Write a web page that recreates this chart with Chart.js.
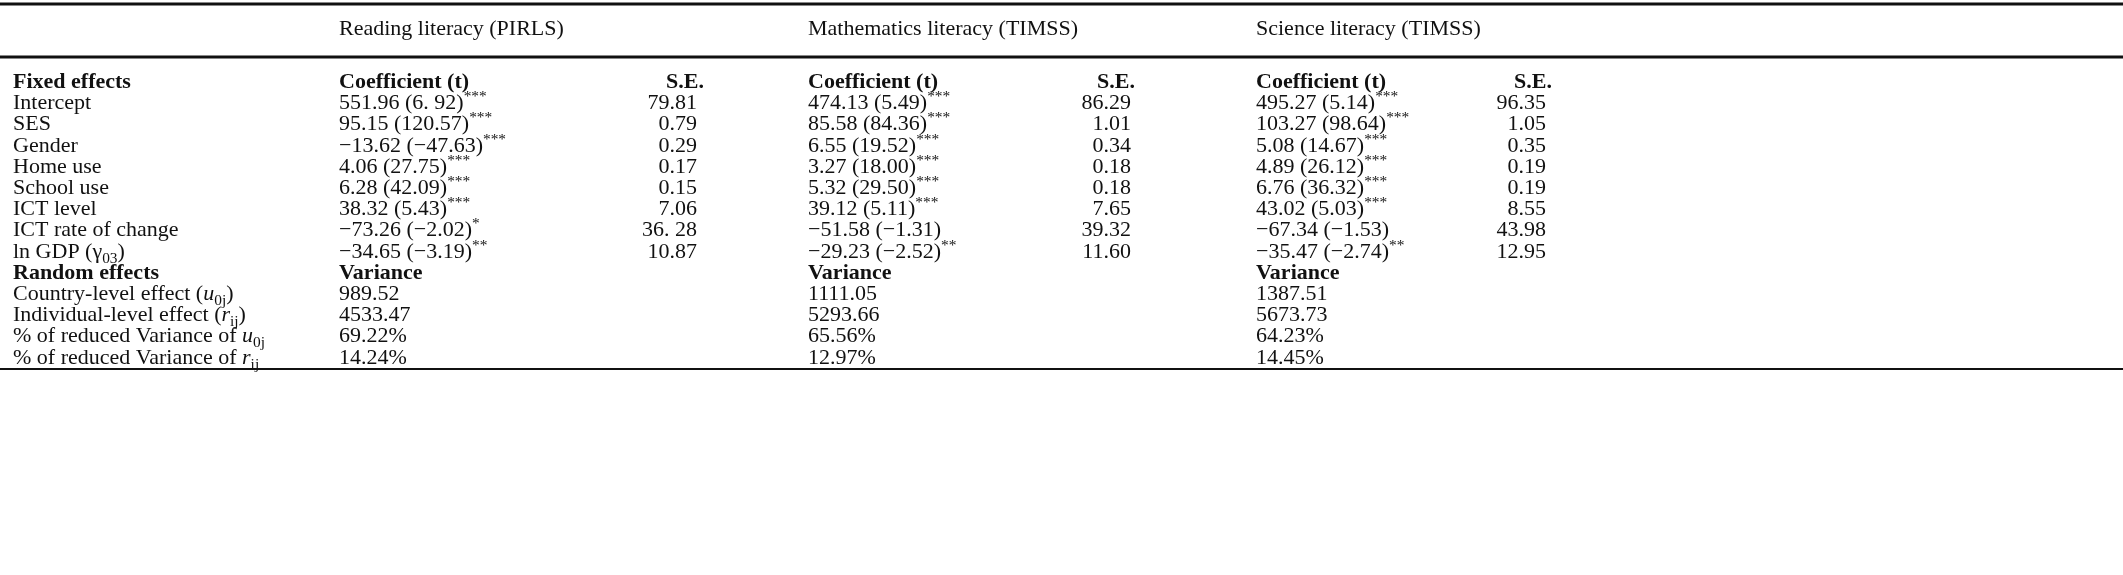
<!DOCTYPE html>
<html>
<head>
<meta charset="utf-8">
<script src="https://cdn.jsdelivr.net/npm/chart.js@4/dist/chart.umd.min.js"></script>
<style>
  html, body { margin: 0; padding: 0; background: #fff; }
  #wrap { width: 2123px; height: 575px; }
</style>
</head>
<body>
<div id="wrap"><canvas id="table"></canvas></div>
<script>
// markup: ^..^ superscript, _.._ subscript, ~..~ italic
const groupTitles = ["Reading literacy (PIRLS)", "Mathematics literacy (TIMSS)", "Science literacy (TIMSS)"];

const rowLabels = [
	"Fixed effects", "Intercept", "SES", "Gender", "Home use", "School use", "ICT level",
	"ICT rate of change", "ln GDP (γ_03_)", "Random effects",
	"Country-level effect (~u~_0j_)", "Individual-level effect (~r~_ij_)",
	"% of reduced Variance of ~u~_0j_", "% of reduced Variance of ~r~_ij_"
];
const boldRows = [0, 9];

const readingCoef = ["Coefficient (t)", "551.96 (6. 92)^***^", "95.15 (120.57)^***^", "−13.62 (−47.63)^***^",
	"4.06 (27.75)^***^", "6.28 (42.09)^***^", "38.32 (5.43)^***^", "−73.26 (−2.02)^*^", "−34.65 (−3.19)^**^",
	"Variance", "989.52", "4533.47", "69.22%", "14.24%"];
const readingSE = ["S.E.", "79.81", "0.79", "0.29", "0.17", "0.15", "7.06", "36. 28", "10.87", "", "", "", "", ""];

const mathCoef = ["Coefficient (t)", "474.13 (5.49)^***^", "85.58 (84.36)^***^", "6.55 (19.52)^***^",
	"3.27 (18.00)^***^", "5.32 (29.50)^***^", "39.12 (5.11)^***^", "−51.58 (−1.31)", "−29.23 (−2.52)^**^",
	"Variance", "1111.05", "5293.66", "65.56%", "12.97%"];
const mathSE = ["S.E.", "86.29", "1.01", "0.34", "0.18", "0.18", "7.65", "39.32", "11.60", "", "", "", "", ""];

const scienceCoef = ["Coefficient (t)", "495.27 (5.14)^***^", "103.27 (98.64)^***^", "5.08 (14.67)^***^",
	"4.89 (26.12)^***^", "6.76 (36.32)^***^", "43.02 (5.03)^***^", "−67.34 (−1.53)", "−35.47 (−2.74)^**^",
	"Variance", "1387.51", "5673.73", "64.23%", "14.45%"];
const scienceSE = ["S.E.", "96.35", "1.05", "0.35", "0.19", "0.19", "8.55", "43.98", "12.95", "", "", "", "", ""];

const FONT = '"Liberation Serif", serif';
const SIZE = 22;

function parse(str) {
	const segs = [];
	let mode = { sup: false, sub: false, it: false };
	let buf = "";
	const flush = () => { if (buf) segs.push({ t: buf, ...mode }); buf = ""; };
	for (const ch of str) {
		if (ch === "^") { flush(); mode = { ...mode, sup: !mode.sup }; }
		else if (ch === "_") { flush(); mode = { ...mode, sub: !mode.sub }; }
		else if (ch === "~") { flush(); mode = { ...mode, it: !mode.it }; }
		else buf += ch;
	}
	flush();
	return segs;
}

function segFont(s, bold) {
	const sz = (s.sup || s.sub) ? SIZE * 0.7 : SIZE;
	return `${s.it ? "italic " : ""}${bold ? "bold " : ""}${sz}px ${FONT}`;
}

function richWidth(ctx, str, bold) {
	let w = 0;
	for (const s of parse(str)) { ctx.font = segFont(s, bold); w += ctx.measureText(s.t).width; }
	return w;
}

function drawRich(ctx, str, x, y, bold, align) {
	if (align === "right") x -= richWidth(ctx, str, bold);
	for (const s of parse(str)) {
		ctx.font = segFont(s, bold);
		const dy = s.sup ? -8 : s.sub ? 5 : 0;
		ctx.fillText(s.t, x, y + dy);
		x += ctx.measureText(s.t).width;
	}
}

const tablePlugin = {
	id: "tablePlugin",
	afterDraw(chart) {
		const { ctx, scales: { x, y } } = chart;
		ctx.save();
		ctx.fillStyle = "#111";
		ctx.textBaseline = "alphabetic";

		const rule = (yv, w) => {
			ctx.fillRect(x.getPixelForValue(0), y.getPixelForValue(yv) - w / 2, x.getPixelForValue(2123), w);
		};
		rule(4, 3);
		rule(57, 3);
		rule(369, 2);

		const coefX = [339, 808, 1256];
		const seRight = [697, 1131, 1546];
		const seHead = [666, 1097, 1514];
		groupTitles.forEach((g, i) => drawRich(ctx, g, x.getPixelForValue(coefX[i]), y.getPixelForValue(35), false, "left"));

		const cols = [[readingCoef, readingSE], [mathCoef, mathSE], [scienceCoef, scienceSE]];
		rowLabels.forEach((lab, r) => {
			const bold = boldRows.includes(r);
			const py = y.getPixelForValue(88 + r * 21.2);
			drawRich(ctx, lab, x.getPixelForValue(13), py, bold, "left");
			cols.forEach(([coef, se], i) => {
				drawRich(ctx, coef[r], x.getPixelForValue(coefX[i]), py, bold, "left");
				if (r === 0) drawRich(ctx, se[r], x.getPixelForValue(seHead[i]), py, true, "left");
				else if (se[r]) drawRich(ctx, se[r], x.getPixelForValue(seRight[i]), py, bold, "right");
			});
		});
		ctx.restore();
	}
};

new Chart(document.getElementById("table"), {
	type: "scatter",
	data: { datasets: [{ data: [] }] },
	options: {
		responsive: true,
		maintainAspectRatio: false,
		animation: false,
		layout: { padding: 0 },
		plugins: { legend: { display: false }, tooltip: { enabled: false } },
		scales: {
			x: { type: "linear", min: 0, max: 2123, display: false },
			y: { type: "linear", min: 0, max: 575, reverse: true, display: false }
		}
	},
	plugins: [tablePlugin]
});
</script>
</body>
</html>
